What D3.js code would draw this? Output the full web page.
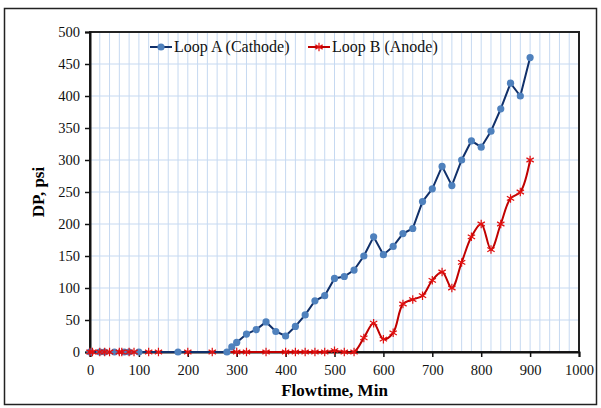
<!DOCTYPE html>
<html>
<head>
<meta charset="utf-8">
<script src="https://cdn.jsdelivr.net/npm/d3@7"></script>
<style>
  body { margin: 0; background: #fff; }
  svg { display: block; }
  svg text { font-family: "Liberation Serif", "Times New Roman", serif; }
</style>
</head>
<body>
<svg id="chart" width="601" height="408"></svg>
<script>
// Loop A (Cathode) - flowtime (min) and DP (psi)
const loopATime = [0, 20, 30, 50, 70, 80, 100, 180, 280, 290, 300, 320, 340, 360, 380, 400, 420, 440, 460, 480,
  500, 520, 540, 560, 580, 600, 620, 640, 660, 680, 700, 720, 740, 760, 780, 800, 820, 840, 860, 880, 900];
const loopADP = [0, 0, 0, 0, 0, 0, 0, 0, 0, 8, 15, 28, 35, 47, 32, 25, 40, 58, 80, 88,
  115, 118, 128, 150, 180, 152, 165, 185, 193, 235, 255, 290, 260, 300, 330, 320, 345, 380, 420, 400, 460];

// Loop B (Anode)
const loopBTime = [0, 5, 20, 30, 40, 60, 65, 80, 90, 120, 140, 200, 250, 300, 320, 360, 400, 420, 440, 460, 480,
  500, 520, 540, 560, 580, 600, 620, 640, 660, 680, 700, 720, 740, 760, 780, 800, 820, 840, 860, 880, 900];
const loopBDP = [0, 0, 0, 0, 0, 0, 0, 0, 0, 0, 0, 0, 0, 0, 0, 0, 0, 0, 0, 0, 0,
  2, 0, 0, 22, 45, 20, 30, 75, 82, 88, 112, 125, 100, 140, 180, 200, 160, 200, 240, 250, 300];

const xTicks = [0, 100, 200, 300, 400, 500, 600, 700, 800, 900, 1000];
const yTicks = [0, 50, 100, 150, 200, 250, 300, 350, 400, 450, 500];

const svg = d3.select('#chart');
const margin = { left: 90, right: 22, top: 32, bottom: 56 };
const W = 601, H = 408;
const serif = '"Liberation Serif", "Times New Roman", serif';

const x = d3.scaleLinear().domain([0, 1000]).range([margin.left, W - margin.right]);
const y = d3.scaleLinear().domain([0, 500]).range([H - margin.bottom, margin.top]);

// outer chart border
svg.append('rect')
  .attr('x', 4.5).attr('y', 8.5).attr('width', 592).attr('height', 396)
  .attr('fill', 'none').attr('stroke', '#222').attr('stroke-width', 1.5);

// gridlines
const grid = svg.append('g');
grid.selectAll('line.v').data(d3.range(20, 1000, 20)).enter().append('line')
  .attr('x1', d => x(d)).attr('x2', d => x(d))
  .attr('y1', y(0)).attr('y2', y(500))
  .attr('stroke', '#c6d9f1').attr('stroke-width', 1);
grid.selectAll('line.h').data(yTicks.filter(d => d > 0 && d < 500)).enter().append('line')
  .attr('x1', x(0)).attr('x2', x(1000))
  .attr('y1', d => y(d)).attr('y2', d => y(d))
  .attr('stroke', '#c6d9f1').attr('stroke-width', 1);

// plot frame
svg.append('rect')
  .attr('x', x(0)).attr('y', y(500))
  .attr('width', x(1000) - x(0)).attr('height', y(0) - y(500))
  .attr('fill', 'none').attr('stroke', '#222').attr('stroke-width', 2);

// axes
const xAxis = svg.append('g')
  .attr('transform', `translate(0,${y(0)})`)
  .call(d3.axisBottom(x).tickValues(xTicks).tickSize(5).tickPadding(8).tickFormat(d3.format('d')));
const yAxis = svg.append('g')
  .attr('transform', `translate(${x(0)},0)`)
  .call(d3.axisLeft(y).tickValues(yTicks).tickSize(5).tickPadding(5).tickFormat(d3.format('d')));
[xAxis, yAxis].forEach(a => {
  a.attr('font-family', serif).attr('font-size', 14.5);
  a.select('.domain').attr('stroke', '#111').attr('stroke-width', 2);
  a.selectAll('.tick line').attr('stroke', '#111').attr('stroke-width', 1.5);
  a.selectAll('.tick text').attr('fill', '#111');
});

// axis titles
svg.append('text')
  .attr('x', x(500)).attr('y', 396)
  .attr('text-anchor', 'middle').attr('font-size', 17).attr('font-weight', 'bold')
  .text('Flowtime, Min');
svg.append('text')
  .attr('transform', `translate(44,${(y(0) + y(500)) / 2}) rotate(-90)`)
  .attr('text-anchor', 'middle').attr('font-size', 17).attr('font-weight', 'bold')
  .text('DP, psi');

const dataA = loopATime.map((t, i) => ({ t, v: loopADP[i] }));
const dataB = loopBTime.map((t, i) => ({ t, v: loopBDP[i] }));

// Loop B (red, smoothed, asterisk markers)
svg.append('path')
  .datum(dataB)
  .attr('fill', 'none').attr('stroke', '#c00000').attr('stroke-width', 2)
  .attr('d', d3.line().x(d => x(d.t)).y(d => y(d.v)).curve(d3.curveCatmullRom.alpha(0.5)));

// Loop A (navy line, blue dots)
svg.append('path')
  .datum(dataA)
  .attr('fill', 'none').attr('stroke', '#10306a').attr('stroke-width', 2)
  .attr('d', d3.line().x(d => x(d.t)).y(d => y(d.v)));

svg.append('g').selectAll('circle').data(dataA).enter().append('circle')
  .attr('cx', d => x(d.t)).attr('cy', d => y(d.v)).attr('r', 3.6)
  .attr('fill', '#4f81bd');

const star = d3.symbol().type(d3.symbolAsterisk).size(50);
svg.append('g').selectAll('path').data(dataB).enter().append('path')
  .attr('transform', d => `translate(${x(d.t)},${y(d.v)})`)
  .attr('d', star)
  .attr('fill', 'none').attr('stroke', '#e01010').attr('stroke-width', 1.2);

// legend
const legend = svg.append('g').attr('font-size', 16).attr('font-family', serif);
const legendItems = [
  { label: 'Loop A (Cathode)', x0: 150, kind: 'A' },
  { label: 'Loop B (Anode)', x0: 308, kind: 'B' }
];
legendItems.forEach(it => {
  const g = legend.append('g').attr('transform', `translate(${it.x0},47)`);
  g.append('line').attr('x1', 0).attr('x2', 22).attr('y1', 0).attr('y2', 0)
    .attr('stroke', it.kind === 'A' ? '#10306a' : '#c00000').attr('stroke-width', 2);
  if (it.kind === 'A') {
    g.append('circle').attr('cx', 11).attr('cy', 0).attr('r', 3.6).attr('fill', '#4f81bd');
  } else {
    g.append('path').attr('transform', 'translate(11,0)').attr('d', star)
      .attr('fill', 'none').attr('stroke', '#e01010').attr('stroke-width', 1.2);
  }
  g.append('text').attr('x', 24).attr('y', 5).attr('fill', '#111').text(it.label);
});
</script>
</body>
</html>
